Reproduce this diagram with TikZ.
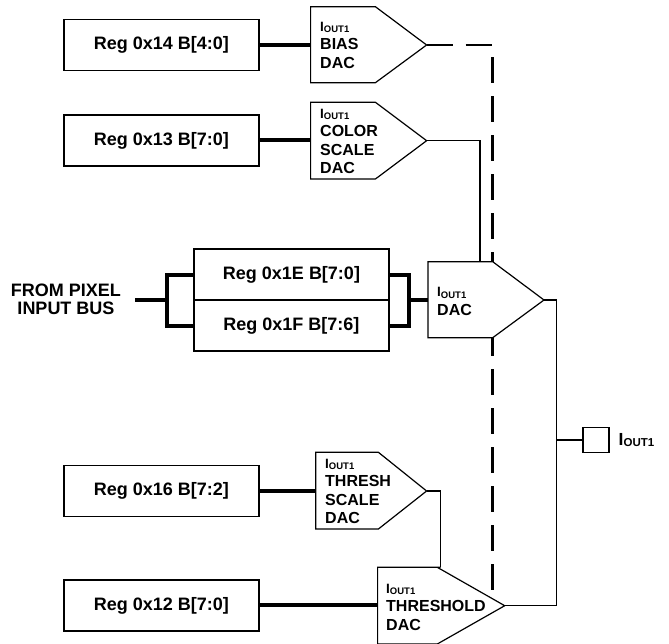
\documentclass[tikz,border=0pt]{standalone}
\usepackage{fontspec}
\setmainfont{Liberation Sans}
\newcommand{\iout}[3]{{\fontsize{#1}{#1}\selectfont I}\raisebox{-#3pt}{\fontsize{#2}{#2}\selectfont OUT1}}
\tikzset{
  lbl/.style={inner sep=0pt,font=\bfseries\fontsize{18}{18.5}\selectfont},
  regbox/.style={lbl,draw,line width=1.2pt,minimum width=195pt,minimum height=51pt},
  dacbox/.style={draw,fill=white,line width=1.2pt},
  daclbl/.style={inner sep=0pt,anchor=south west,align=left,font=\bfseries\fontsize{16}{18.5}\selectfont},
  bus/.style={line width=4pt},
  wire/.style={line width=1.2pt},
}
\begin{document}
\begin{tikzpicture}[x=1pt,y=-1pt]
	\useasboundingbox (0,0) rectangle (669,643);
	\node[regbox] (r14) at (161.5,45) {Reg 0x14 B[4:0]};
	\node[regbox] (r13) at (161.5,140.4) {Reg 0x13 B[7:0]};
	\node[regbox] (r1e) at (291.5,274.5) {Reg 0x1E B[7:0]};
	\node[regbox] (r1f) at (291.5,325.5) {Reg 0x1F B[7:6]};
	\node[regbox] (r16) at (161.5,490.9) {Reg 0x16 B[7:2]};
	\node[regbox] (r12) at (161.5,605.4) {Reg 0x12 B[7:0]};
	\node[lbl,align=center] (pix) at (66,299.3) {FROM PIXEL\\INPUT BUS};
	\coordinate (biastip) at (426.6,45);
	\coordinate (dcorner) at (492.5,45);
	\coordinate (dend) at (492.5,598);
	\draw[line width=2.7pt,dash pattern=on 26pt off 13pt] (biastip)--(dcorner)--(dend);
	\draw[dacbox] (310.6,6.7)--(375.4,6.7)--(biastip)--(375.4,82.7)--(310.6,82.7)--cycle;
	\draw[dacbox] (310.6,102.3)--(375.4,102.3)--(426.6,140.7)coordinate(colortip)--(375.4,179)--(310.6,179)--cycle;
	\draw[dacbox] (428,261.7)--(480,261.7)coordinate(mixtop)--(492.7,261.7)--(544,300)coordinate(mixtip)--(492.7,337.7)--(428,337.7)--cycle;
	\draw[dacbox] (315.7,452.3)--(378.4,452.3)--(426.6,491)coordinate(tstip)--(378.4,529)--(315.7,529)--cycle;
	\draw[dacbox] (377.6,567.3)--(440.7,567.3)coordinate(thtop)--(437.3,567.3)--(504.7,605.7)coordinate(thtip)--(437.3,644)--(377.6,644)--cycle;
	\node[daclbl] (lbias) at (320,68.7) {\iout{13.5}{9.5}{1.2}\\BIAS\\DAC};
	\node[daclbl] (lcolor) at (320,174) {\iout{13.5}{9.5}{1.2}\\COLOR\\SCALE\\DAC};
	\node[daclbl] (lmix) at (437,315.7) {\iout{13.5}{9.5}{1.2}\\DAC};
	\node[daclbl] (lts) at (325,524) {\iout{13.5}{9.5}{1.2}\\THRESH\\SCALE\\DAC};
	\node[daclbl] (lth) at (386,630.7) {\iout{13.5}{9.5}{1.2}\\THRESHOLD\\DAC};
	\coordinate (brl) at (167,300);
	\coordinate (brr) at (408.7,300);
	\coordinate (busin) at (135,300);
	\draw[bus] (r14.east)--(310.6,45);
	\draw[bus] (r13.east)--(310.6,140.4);
	\draw[bus] (r16.east)--(315.7,490.9);
	\draw[bus] (r12.east)--(377.6,605.4);
	\draw[bus] (r1e.west)-|(brl)|-(r1f.west);
	\draw[bus] (r1e.east)-|(brr)|-(r1f.east);
	\draw[bus] (busin)--(brl);
	\draw[bus] (brr)--(428,300);
	\draw[wire] (colortip)-|(mixtop);
	\draw[wire] (tstip)-|(thtop);
	\node[draw,line width=1.2pt,minimum width=26pt,minimum height=24.6pt,inner sep=0pt] (obox) at (596,440) {};
	\node[lbl,anchor=west] (olbl) at (618.5,440) {\iout{17.5}{11.5}{1.5}};
	\coordinate (junc) at (556.7,440);
	\draw[wire] (mixtip)-|(junc)|-(thtip);
	\draw[wire] (junc)--(obox.west);
\end{tikzpicture}
\end{document}
